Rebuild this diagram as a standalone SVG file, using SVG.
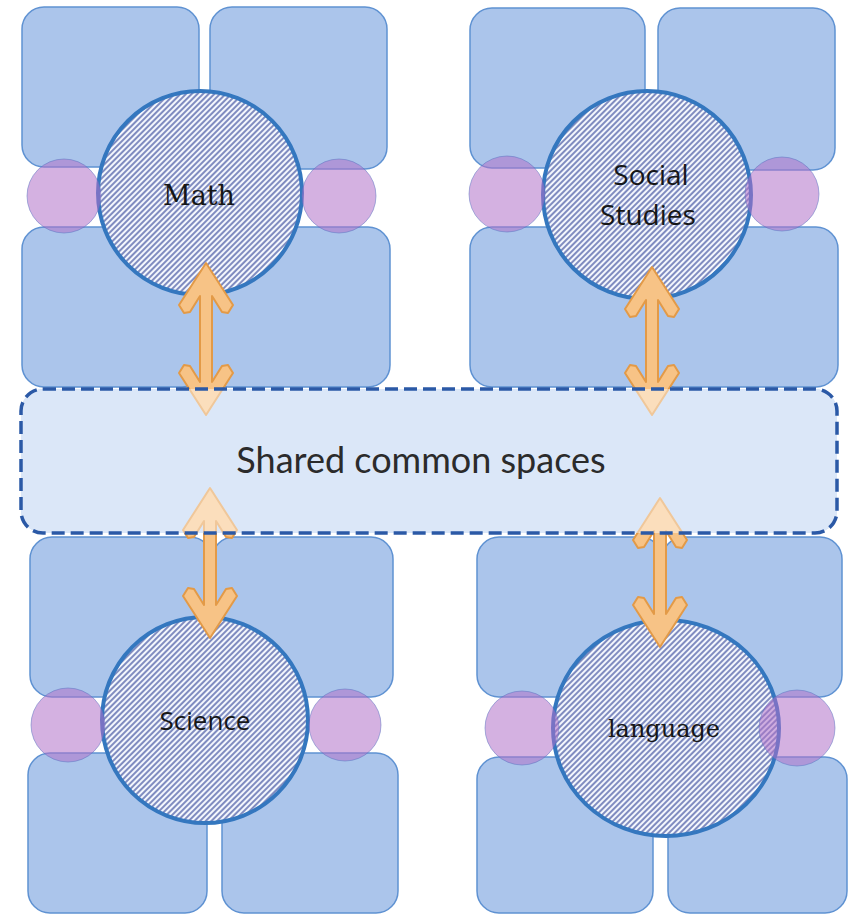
<svg xmlns="http://www.w3.org/2000/svg" width="849" height="915" viewBox="0 0 849 915">
  <defs>
    <pattern id="hatch" patternUnits="userSpaceOnUse" width="10" height="4" patternTransform="rotate(-45)">
      <rect width="10" height="4" fill="#f4f7fd"/>
      <line x1="0" y1="2" x2="10" y2="2" stroke="#3a4b9c" stroke-width="1.25"/>
    </pattern>
    <clipPath id="boxclip">
      <rect x="21" y="389" width="816" height="144" rx="22"/>
    </clipPath>
  </defs>
  <style>
    .room { fill: #abc5eb; stroke: #5f92d2; stroke-width: 1.5; }
    .link { fill: #b071c8; fill-opacity: 0.55; stroke: #5a6fc0; stroke-width: 1; stroke-opacity: 0.5; }
    .subject { fill: url(#hatch); stroke: #3477bf; stroke-width: 4; }
    .serif { font-family: "DejaVu Serif", "Liberation Serif", serif; fill: #161616; text-anchor: middle; }
    .sans { font-family: "Open Sans", "Liberation Sans", sans-serif; fill: #161616; text-anchor: middle; }
    .arrow { fill: #f7c386; stroke: #e39a47; stroke-width: 2; stroke-linejoin: round; }
    .common-base { fill: #bed4f2; }
    .common-veil { fill: #ffffff; fill-opacity: 0.45; }
    .common-edge { fill: none; stroke: #2b59a6; stroke-width: 3.5; stroke-dasharray: 13 6; }
    .common-text { font-family: Lato, "Open Sans", sans-serif; font-size: 36px; fill: #2b2b2b; text-anchor: middle; }
  </style>

  <g id="math">
    <rect class="room" x="22" y="7" width="177" height="160" rx="22"/>
    <rect class="room" x="210" y="7" width="177" height="162" rx="22"/>
    <rect class="room" x="22" y="227" width="182" height="160" rx="22"/>
    <rect class="room" x="206" y="227" width="184" height="160" rx="22"/>
    <circle class="subject" cx="200" cy="193" r="102"/>
    <circle class="link" cx="64" cy="196" r="37"/>
    <circle class="link" cx="339" cy="196" r="37"/>
    <text class="serif" x="199" y="205" font-size="27">Math</text>
  </g>

  <g id="social-studies">
    <rect class="room" x="470" y="8" width="175" height="160" rx="22"/>
    <rect class="room" x="658" y="8" width="177" height="162" rx="22"/>
    <rect class="room" x="470" y="227" width="183" height="160" rx="22"/>
    <rect class="room" x="653" y="227" width="185" height="160" rx="22"/>
    <circle class="subject" cx="647" cy="195" r="104"/>
    <circle class="link" cx="507" cy="194" r="38"/>
    <circle class="link" cx="782" cy="194" r="37"/>
    <text class="sans" x="651" y="185" font-size="28">Social</text>
    <text class="sans" x="648" y="225" font-size="28">Studies</text>
  </g>

  <g id="science">
    <rect class="room" x="30" y="537" width="182" height="160" rx="22"/>
    <rect class="room" x="212" y="537" width="181" height="160" rx="22"/>
    <rect class="room" x="28" y="753" width="179" height="160" rx="22"/>
    <rect class="room" x="222" y="753" width="176" height="160" rx="22"/>
    <circle class="subject" cx="205" cy="720" r="103"/>
    <circle class="link" cx="68" cy="725" r="37"/>
    <circle class="link" cx="345" cy="725" r="36"/>
    <text class="sans" x="205" y="730" font-size="26">Science</text>
  </g>

  <g id="language">
    <rect class="room" x="477" y="537" width="185" height="160" rx="22"/>
    <rect class="room" x="662" y="537" width="180" height="160" rx="22"/>
    <rect class="room" x="477" y="757" width="176" height="156" rx="22"/>
    <rect class="room" x="668" y="757" width="179" height="156" rx="22"/>
    <ellipse class="subject" cx="666" cy="728" rx="113" ry="108"/>
    <circle class="link" cx="522" cy="728" r="37"/>
    <circle class="link" cx="797" cy="728" r="38"/>
    <text class="serif" x="664" y="737" font-size="24">language</text>
  </g>

  <g id="shared-common-spaces-base">
    <rect class="common-base" x="21" y="389" width="816" height="144" rx="22"/>
  </g>

  <g id="connectors">
    <path class="arrow" d="M206,263 L233,305 L228,313 L222,312 L212,296 L212,382 L222,366 L228,365 L233,373 L206,415 L179,373 L184,365 L190,366 L200,382 L200,296 L190,312 L184,313 L179,305 Z"/>
    <path class="arrow" d="M652,267 L679,309 L674,317 L668,316 L658,300 L658,382 L668,366 L674,365 L679,373 L652,415 L625,373 L630,365 L636,366 L646,382 L646,300 L636,316 L630,317 L625,309 Z"/>
    <path class="arrow" d="M210,488 L237,530 L232,538 L226,537 L216,521 L216,605 L226,589 L232,588 L237,596 L210,638 L183,596 L188,588 L194,589 L204,605 L204,521 L194,537 L188,538 L183,530 Z"/>
    <path class="arrow" d="M660,498 L687,540 L682,548 L676,547 L666,531 L666,614 L676,598 L682,597 L687,605 L660,647 L633,605 L638,597 L644,598 L654,614 L654,531 L644,547 L638,548 L633,540 Z"/>
  </g>

  <g id="shared-common-spaces">
    <rect class="common-veil" x="21" y="389" width="816" height="144" rx="22" clip-path="url(#boxclip)"/>
    <rect class="common-edge" x="21" y="389" width="816" height="144" rx="22"/>
    <text class="common-text" x="421" y="473">Shared common spaces</text>
  </g>
</svg>
